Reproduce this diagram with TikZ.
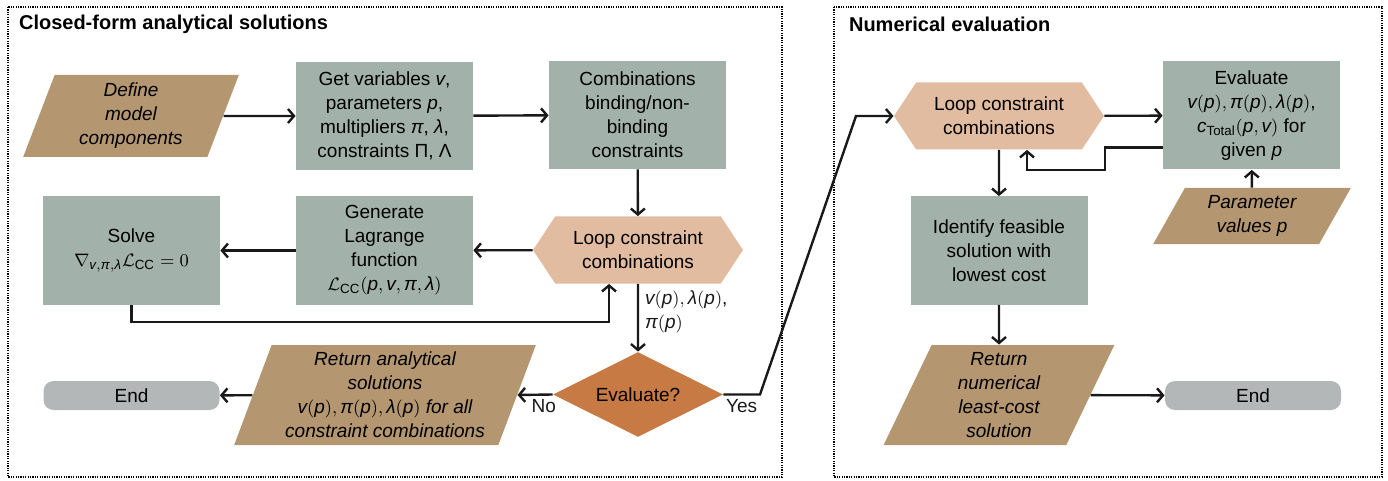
\documentclass[tikz,border=0pt]{standalone}
\usepackage{amsmath}
\usepackage{fontspec}
\setmainfont{Liberation Sans}
\usetikzlibrary{arrows.meta,calc,positioning,shapes.geometric,shapes.symbols}
\definecolor{procgreen}{RGB}{162,178,170}
\definecolor{iotan}{RGB}{180,150,112}
\definecolor{looppeach}{RGB}{226,188,160}
\definecolor{decorange}{RGB}{200,122,68}
\definecolor{termgrey}{RGB}{180,183,184}
% sans italic symbols as in the figure
\newcommand{\vV}{\text{\itshape v}}
\newcommand{\vP}{\text{\itshape p}}
\newcommand{\vPi}{\text{\itshape π}}
\newcommand{\vLam}{\text{\itshape λ}}
\newcommand{\vC}{\text{\itshape c}}

\begin{document}
\begin{tikzpicture}[x=0.5pt,y=-0.5pt,
  font=\fontsize{9.5}{12}\selectfont,
  arr/.style={-{Straight Barb[length=3pt,width=7pt]},line width=1.2pt,black!90},
  proc/.style={fill=procgreen,minimum width=88.5pt,minimum height=54pt,align=center,inner sep=2pt},
  io/.style={trapezium,trapezium stretches=true,fill=iotan,font=\fontsize{9.5}{12}\selectfont\itshape,align=center,inner sep=0pt},
  loopbox/.style={signal,signal to=west and east,signal pointer angle=113,fill=looppeach,minimum width=105pt,minimum height=33.5pt,align=center,inner sep=1pt},
  decide/.style={diamond,aspect=2,fill=decorange,minimum width=85pt,minimum height=42.5pt,inner sep=0pt},
  term/.style={rounded corners=5pt,fill=termgrey,minimum width=88pt,minimum height=14.5pt,inner sep=0pt},
  frame/.style={line width=0.6pt,dash pattern=on 0.6pt off 0.6pt},
  ttl/.style={font=\fontsize{10}{12}\selectfont\bfseries,anchor=west}]
  \useasboundingbox (0,0) rectangle (1388,481);

  % panels
  \draw[frame] (8,7) rectangle (782,477);
  \draw[frame] (834,7) rectangle (1382,477);
  \node[ttl] (ttlA) at (12,24) {Closed-form analytical solutions};
  \node[ttl] (ttlB) at (842,24) {Numerical evaluation};

  % closed-form part
  \node[io,minimum width=108.5pt,minimum height=41pt,trapezium left angle=72,trapezium right angle=108] (define) at (131,116) {Define\\model\\components};
  \node[proc] (getvar) at (384.5,116) {Get variables $\vV$,\\parameters $\vP$,\\multipliers $\vPi$, $\vLam$,\\constraints Π, Λ};
  \node[proc] (comb) at (637.5,115) {Combinations\\binding/non-\\binding\\constraints};
  \node[loopbox] (loopA) at (638,250) {Loop constraint\\combinations};
  \node[proc] (gen) at (384.5,250.5) {Generate\\Lagrange\\function\\$\mathcal{L}_{\text{CC}}(\vP,\vV,\vPi,\vLam)$};
  \node[proc] (solve) at (131.5,250.5) {Solve\\$\nabla_{\vV,\vPi,\vLam}\mathcal{L}_{\text{CC}}=0$};
  \node[decide] (evalq) at (638,394.5) {Evaluate?};
  \node[io,minimum width=151pt,minimum height=50pt,trapezium left angle=69,trapezium right angle=111] (retA) at (385,395) {Return analytical\\solutions\\$\vV(\vP),\vPi(\vP),\vLam(\vP)$ for all\\constraint combinations};
  \node[term] (endA) at (131.5,395.5) {End};

  % numerical part
  \node[loopbox] (loopB) at (999,116) {Loop constraint\\combinations};
  \node[proc] (evalB) at (1251.5,115.5) {Evaluate\\$\vV(\vP),\vPi(\vP),\vLam(\vP)$,\\$\vC_{\text{Total}}(\vP,\vV)$ for\\given $\vP$};
  \node[io,minimum width=99pt,minimum height=28pt,trapezium left angle=63,trapezium right angle=117] (param) at (1252,216) {Parameter\\values $\vP$};
  \node[proc] (ident) at (999,250.5) {Identify feasible\\solution with\\lowest cost};
  \node[io,minimum width=116pt,minimum height=50pt,trapezium left angle=71,trapezium right angle=109] (retB) at (999,395) {Return\\numerical\\least-cost\\solution};
  \node[term] (endB) at (1253,395.5) {End};

  \coordinate (fbA) at (609,322);
  \coordinate (yesA) at (760,394.5);
  \coordinate (yesB) at (856,116);
  \coordinate (fbB) at (1105,170);

  \draw[arr] (define) -- (getvar);
  \draw[arr] (getvar) -- (comb);
  \draw[arr] (comb) -- (loopA);
  \draw[arr] (loopA) -- (gen);
  \draw[arr] (gen) -- (solve);
  \draw[arr] (solve.south) |- (fbA) -- (fbA |- loopA.south);
  \draw[arr] (loopA) -- node[right,align=left,pos=0.42,inner sep=3pt] {$\vV(\vP),\vLam(\vP)$,\\$\vPi(\vP)$} (evalq);
  \draw[arr] (evalq.west) -- node[below,pos=0.25,inner sep=2pt] {No} (retA.east);
  \draw[arr] (retA) -- (endA);
  \draw[arr] (evalq.east) -- node[below,inner sep=2pt] {Yes} (yesA) -- (yesB) -- (loopB.west);

  \draw[arr] (loopB) -- (evalB);
  \draw[arr] ($(evalB.west)+(0,32)$) -| (fbB) -| ($(loopB.south)+(28,0)$);
  \draw[arr] (param) -- (evalB);
  \draw[arr] (loopB) -- (ident);
  \draw[arr] (ident) -- (retB);
  \draw[arr] (retB) -- (endB);
\end{tikzpicture}
\end{document}
